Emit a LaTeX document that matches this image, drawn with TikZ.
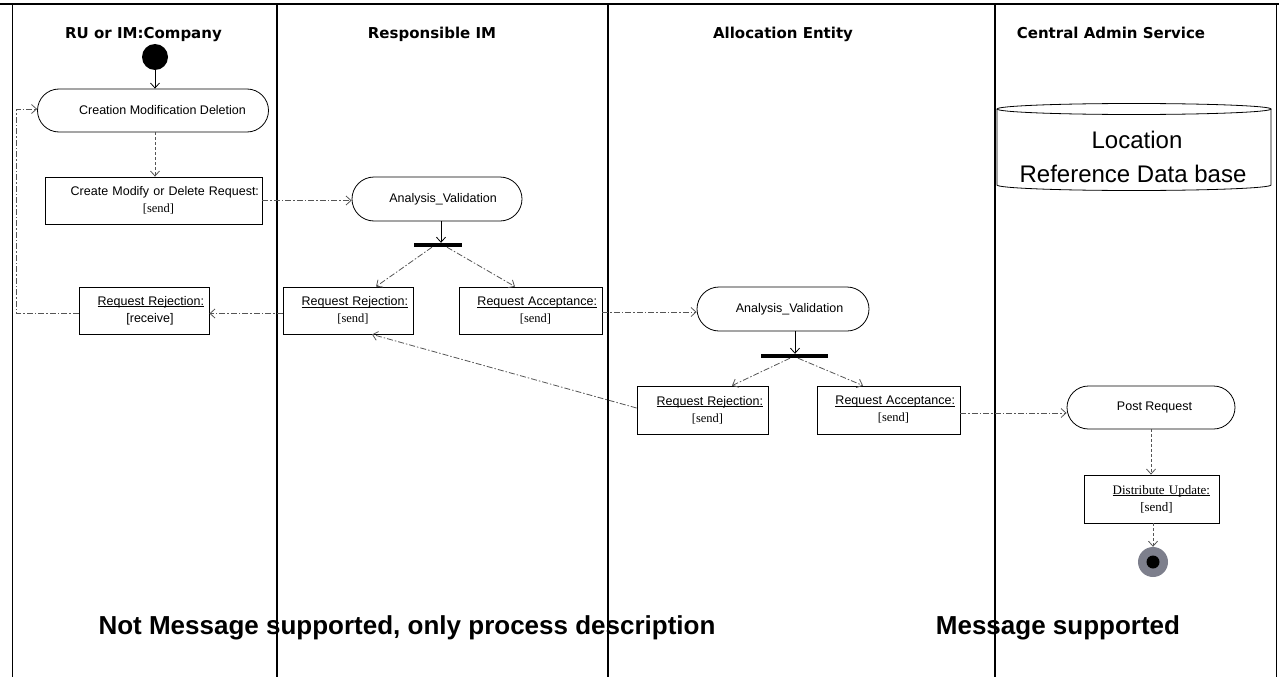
\documentclass[tikz,border=0pt]{standalone}
\usepackage{fontspec}
\setmainfont{Liberation Sans}
\newfontfamily\serf{Liberation Serif}
\newfontfamily\titlef{DejaVu Sans}
\usetikzlibrary{arrows.meta,shapes.misc}
\definecolor{conn}{RGB}{85,85,85}
\definecolor{endgray}{RGB}{125,127,140}
\def\ulin#1{\setbox0\hbox{#1}\rlap{\vrule height -1.2pt depth 2pt width \wd0}\box0}
\newcommand\twoline[2]{\hfill #1\\\hspace*{10pt}#2}
\begin{document}
\begin{tikzpicture}[x=1pt,y=-1pt,
  lbl/.style={font=\fontsize{12.5}{17}\selectfont},
  lanetitle/.style={font=\titlef\bfseries\fontsize{15}{18}\selectfont, anchor=base, inner sep=0pt},
  stadium/.style={draw, rounded rectangle, inner sep=0pt, lbl, line width=0.8pt},
  actbox/.style={draw, rectangle, inner sep=0pt, lbl, line width=0.8pt, align=center},
  bar/.style={fill=black, inner sep=0pt, minimum height=4pt},
  tipv/.style={-{Straight Barb[length=5pt,width=9pt]}},
  dd/.style={draw=conn, line width=0.8pt, dash pattern=on 6pt off 2pt on 1.5pt off 2pt, tipv},
  dsh/.style={draw=conn, line width=0.8pt, dash pattern=on 3pt off 2pt, tipv},
  sol/.style={draw=black, line width=0.8pt, tipv},
  bigtxt/.style={font=\bfseries\fontsize{26}{30}\selectfont, anchor=base, inner sep=0pt},
  dbtxt/.style={font=\fontsize{24}{28}\selectfont, anchor=base, inner sep=0pt}
]
\useasboundingbox (0,0) rectangle (1284,677);

% frame and lanes
\draw[line width=2pt] (0,4) -- (1279,4);
\draw[line width=1pt] (12,5) -- (12,677);
\draw[line width=1pt] (1276,5) -- (1276,677);
\foreach \xx in {277,608,995} \draw[line width=2pt] (\xx,5) -- (\xx,677);

% lane titles
\node[lanetitle] (t1) at (143.5,38) {RU or IM:Company};
\node[lanetitle] (t2) at (432,38) {Responsible IM};
\node[lanetitle] (t3) at (783,38) {Allocation Entity};
\node[lanetitle] (t4) at (1111,38) {Central Admin Service};

% database
\draw[line width=0.8pt] (997,109) -- (997,185) arc[start angle=180,end angle=360,x radius=137pt,y radius=5.5pt] -- (1271,109);
\draw[line width=0.8pt] (1134,109) ellipse[x radius=137pt, y radius=5.5pt];
\node[dbtxt] (db1) at (1137,148) {Location};
\node[dbtxt] (db2) at (1133,182) {Reference Data base};

% lane 1
\node[circle, fill=black, minimum size=26pt, inner sep=0pt] (start) at (155,57) {};
\node[stadium, minimum width=231pt, minimum height=43pt] (CMD) at (153,110.5) {\hspace*{19pt}Creation Modification Deletion};
\node[actbox, minimum width=217pt, minimum height=47pt, text width=211pt] (CMDR) at (153.5,200.5) {\twoline{Create Modify or Delete Request:}{\serf[send]}};
\node[actbox, minimum width=130pt, minimum height=47pt, text width=120pt] (RRrec) at (144,310.5) {\twoline{\ulin{Request Rejection:}}{\hspace*{2pt}[receive]}};

% lane 2
\node[stadium, minimum width=170pt, minimum height=44pt] (AV1) at (437,199) {\hspace*{12pt}Analysis\_Validation};
\node[bar, minimum width=48pt] (bar1) at (438,245) {};
\node[actbox, minimum width=130pt, minimum height=47pt, text width=120pt] (RRrim) at (348,310.5) {\twoline{\ulin{Request Rejection:}}{\serf[send]}};
\node[actbox, minimum width=143pt, minimum height=47pt, text width=133pt] (RArim) at (530.5,310.5) {\twoline{\ulin{Request Acceptance:}}{\serf[send]}};

% lane 3
\node[stadium, minimum width=172pt, minimum height=44pt] (AV2) at (783,309) {\hspace*{13pt}Analysis\_Validation};
\node[bar, minimum width=67pt] (bar2) at (794.5,356) {};
\node[actbox, minimum width=131pt, minimum height=48pt, text width=121pt] (RRAE) at (702.5,410) {\twoline{\ulin{Request Rejection:}}{\serf[send]}};
\node[actbox, minimum width=143pt, minimum height=48pt, text width=133pt] (RAAE) at (888.5,410) {\twoline{\ulin{Request Acceptance:}}{\serf[send]}};

% lane 4
\node[stadium, minimum width=168pt, minimum height=43pt] (PR) at (1151,407.5) {\hspace*{7pt}Post Request};
\node[actbox, minimum width=135pt, minimum height=48pt, text width=117pt] (DU) at (1151.5,499) {\twoline{\serf\fontsize{13}{17}\selectfont\ulin{Distribute Update:}}{\serf[send]}};
\node[circle, fill=endgray, minimum size=30pt, inner sep=0pt] (endc) at (1153,562) {};
\fill[black] (endc.center) circle (6.5pt);

% connectors
\draw[sol] (start.south) -- (start.south |- CMD.north);
\draw[dsh] ([xshift=2pt]CMD.south) -- ([xshift=2pt]CMD.south |- CMDR.north);
\draw[dd] (CMDR.east) -- (CMDR.east -| AV1.west);
\draw[sol] ([xshift=4pt]AV1.south) -- ([xshift=4pt]AV1.south |- bar1.north);
\draw[dd] ([xshift=-6pt]bar1.south) -- ([xshift=28pt]RRrim.north);
\draw[dd] ([xshift=9pt]bar1.south) -- ([xshift=-15.5pt]RArim.north);
\draw[dd] ([yshift=-3pt]RRrim.west) -- ([yshift=-3pt]RRrim.west -| RRrec.east);
\draw[dd] ([yshift=-3pt]RRrec.west) -- ++(-62,0) |- ([yshift=1.5pt]CMD.west);
\draw[dd] ([yshift=-1.5pt]RArim.east) -- ([yshift=-1.5pt]RArim.east -| AV2.west);
\draw[sol] ([xshift=12pt]AV2.south) -- ([xshift=12pt]AV2.south |- bar2.north);
\draw[dd] ([xshift=-4.5pt]bar2.south) -- ([xshift=29.5pt]RRAE.north);
\draw[dd] ([xshift=3.5pt]bar2.south) -- ([xshift=-25.5pt]RAAE.north);
\draw[dd] ([yshift=2pt]RRAE.west) -- ([xshift=24pt]RRrim.south);
\draw[dd] ([yshift=-3pt]RAAE.east) -- ([yshift=-3pt]RAAE.east -| PR.west);
\draw[dsh] (PR.south) -- (PR.south |- DU.north);
\draw[dsh] ([xshift=1.5pt]DU.south) -- (endc.north);

% bottom texts
\node[bigtxt] (nm) at (407,634) {Not Message supported, only process description};
\node[bigtxt] (ms) at (1058,634) {Message supported};
\end{tikzpicture}
\end{document}
